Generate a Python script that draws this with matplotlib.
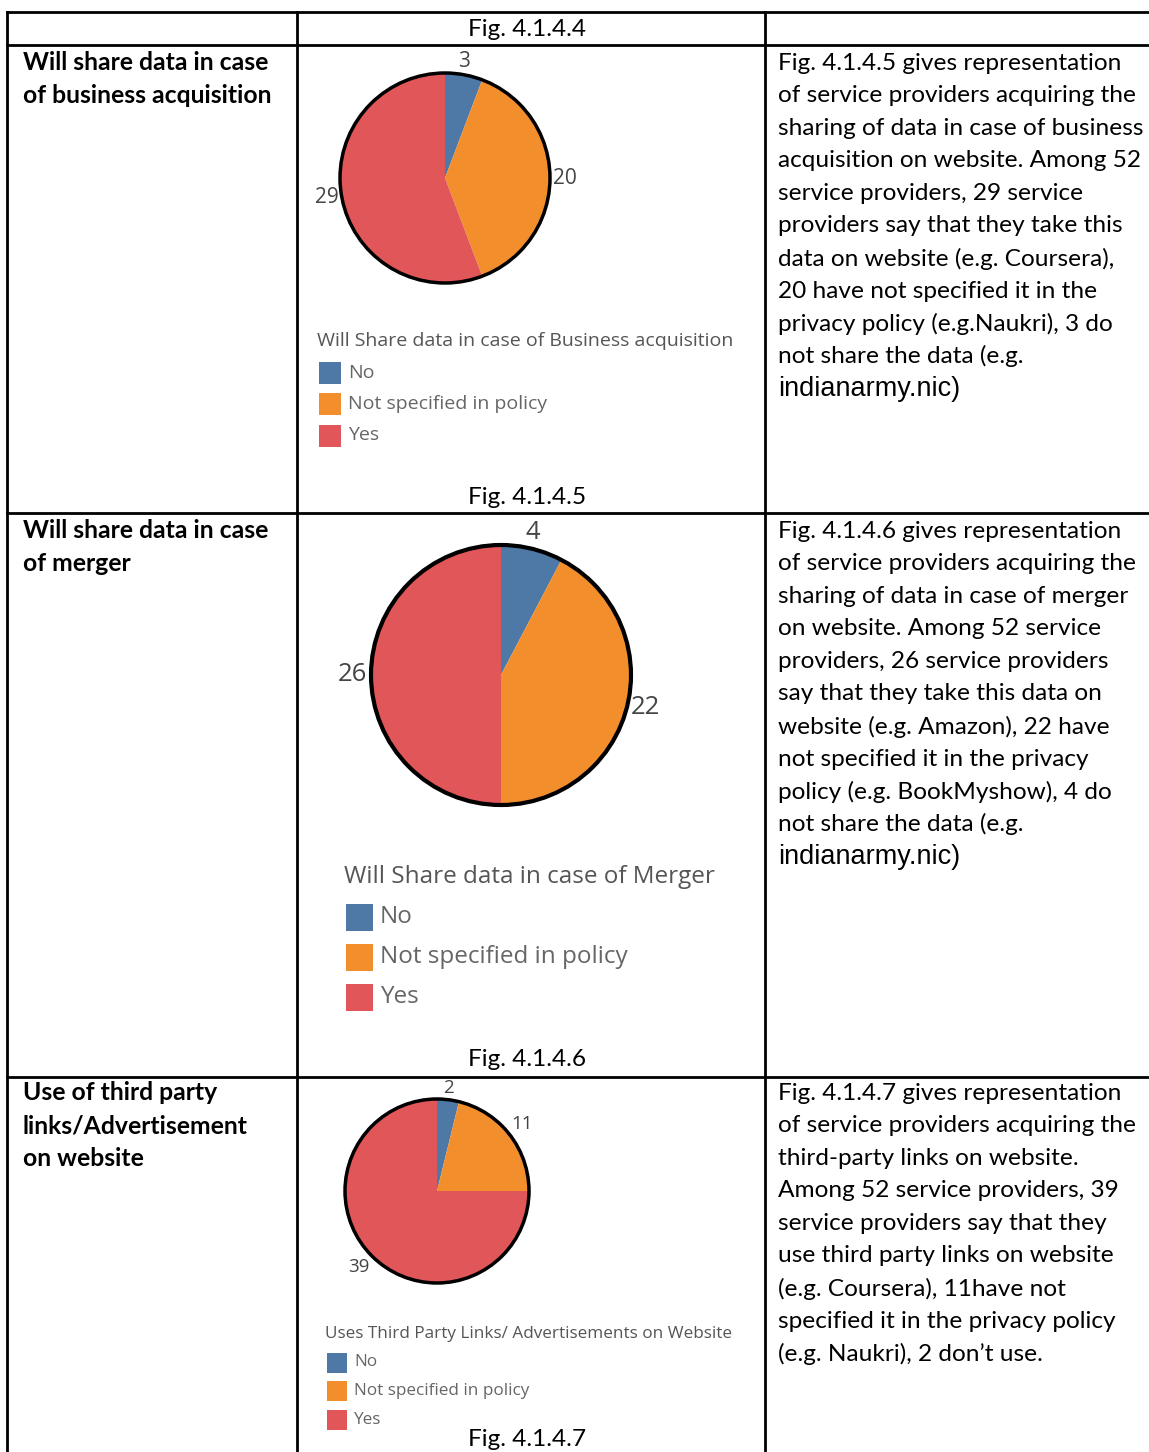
import matplotlib.pyplot as plt
from matplotlib.patches import Circle, Rectangle
from matplotlib import font_manager

W, H = 1149, 1452

# data
categories = ["No", "Not specified in policy", "Yes"]
colors = ["#4e79a7", "#f28e2b", "#e15759"]

acquisition_values = [3, 20, 29]
merger_values = [4, 22, 26]
third_party_values = [2, 11, 39]

legend_titles = [
    "Will Share data in case of Business acquisition",
    "Will Share data in case of Merger",
    "Uses Third Party Links/ Advertisements on Website",
]
captions = ["Fig. 4.1.4.5", "Fig. 4.1.4.6", "Fig. 4.1.4.7"]
header_caption = "Fig. 4.1.4.4"

row_titles = [
    ["Will share data in case", "of business acquisition"],
    ["Will share data in case", "of merger"],
    ["Use of third party", "links/Advertisement", "on website"],
]

row_texts = [
    ["Fig. 4.1.4.5 gives representation",
     "of service providers acquiring the",
     "sharing of data in case of business",
     "acquisition on website. Among 52",
     "service providers, 29 service",
     "providers say that they take this",
     "data on website (e.g. Coursera),",
     "20 have not specified it in the",
     "privacy policy (e.g.Naukri), 3 do",
     "not share the data (e.g.",
     "indianarmy.nic)"],
    ["Fig. 4.1.4.6 gives representation",
     "of service providers acquiring the",
     "sharing of data in case of merger",
     "on website. Among 52 service",
     "providers, 26 service providers",
     "say that they take this data on",
     "website (e.g. Amazon), 22 have",
     "not specified it in the privacy",
     "policy (e.g. BookMyshow), 4 do",
     "not share the data (e.g.",
     "indianarmy.nic)"],
    ["Fig. 4.1.4.7 gives representation",
     "of service providers acquiring the",
     "third-party links on website.",
     "Among 52 service providers, 39",
     "service providers say that they",
     "use third party links on website",
     "(e.g. Coursera), 11have not",
     "specified it in the privacy policy",
     "(e.g. Naukri), 2 don\u2019t use."],
]

names = {f.name for f in font_manager.fontManager.ttflist}
if "Liberation Sans Narrow" in names:
    body_font, body_size = "Liberation Sans Narrow", 17.5
else:
    body_font, body_size = "Lato", 17.6
legend_font = "Open Sans"

fig = plt.figure(figsize=(W / 100, H / 100), dpi=100)
bg = fig.add_axes([0, 0, 1, 1])
bg.set_xlim(0, W)
bg.set_ylim(H, 0)
bg.axis("off")

# table grid
lw = 2
for y in [12, 45, 513, 1077]:
    bg.plot([7, 1149], [y, y], color="black", lw=lw)
for x in [7, 297, 765]:
    bg.plot([x, x], [12, H], color="black", lw=lw)

bg.text(527, 29, header_caption, fontsize=body_size, family=body_font, ha="center", va="center")

row_tops = [63, 531, 1093]
line_step = 32.6
for top, title_lines, text_lines in zip(row_tops, row_titles, row_texts):
    for i, s in enumerate(title_lines):
        bg.text(23, top + i * line_step, s, fontsize=17.8, family=body_font,
                weight="bold", va="center")
    for i, s in enumerate(text_lines):
        if s.startswith("indianarmy"):
            bg.text(778, top + i * line_step, s, fontsize=19.5, family="Liberation Sans", va="center")
        else:
            bg.text(778, top + i * line_step, s, fontsize=body_size, family=body_font, va="center")


def draw_pie(values, cx, cy, r, fs, edge_w):
    pad = 1.5
    size = 2 * r * pad
    ax = fig.add_axes([(cx - size / 2) / W, 1 - (cy + size / 2) / H, size / W, size / H])
    wedges, texts = ax.pie(values, labels=[str(v) for v in values], colors=colors,
                           startangle=90, counterclock=False, radius=1, labeldistance=1.03,
                           wedgeprops=dict(linewidth=0),
                           textprops=dict(fontsize=fs, color="#444", family=legend_font))
    for t in texts:
        x, y = t.get_position()
        if y > 0.5:
            t.set_va("bottom")
        elif y < -0.5:
            t.set_va("top")
        if abs(x) < 0.3:
            t.set_ha("center")
    ax.add_patch(Circle((0, 0), 1, fill=False, ec="black", lw=edge_w))
    ax.set_xlim(-pad, pad)
    ax.set_ylim(-pad, pad)
    ax.axis("off")


def draw_legend(title, x, y, step, box, fs):
    bg.text(x, y, title, fontsize=fs, family=legend_font, color="#555", va="center")
    for i, (c, name) in enumerate(zip(colors, categories)):
        yy = y + step * (i + 1)
        bg.add_patch(Rectangle((x + 2, yy - box / 2), box, box, color=c, lw=0))
        bg.text(x + box + 9, yy, name, fontsize=fs, family=legend_font, color="#666", va="center")


draw_pie(acquisition_values, 445, 178, 105, 15, 2.5)
draw_legend(legend_titles[0], 317, 341, 31.5, 22, 14)
bg.text(527, 497, captions[0], fontsize=body_size, family=body_font, ha="center", va="center")

draw_pie(merger_values, 501, 675, 130, 18.5, 3)
draw_legend(legend_titles[1], 344, 877, 40, 27, 17.5)
bg.text(527, 1059, captions[1], fontsize=body_size, family=body_font, ha="center", va="center")

draw_pie(third_party_values, 437, 1191, 92, 13.5, 2.5)
draw_legend(legend_titles[2], 325, 1334, 28.5, 20, 12.3)
bg.text(527, 1440, captions[2], fontsize=body_size, family=body_font, ha="center", va="center")

fig.savefig("out.png", dpi=100)
